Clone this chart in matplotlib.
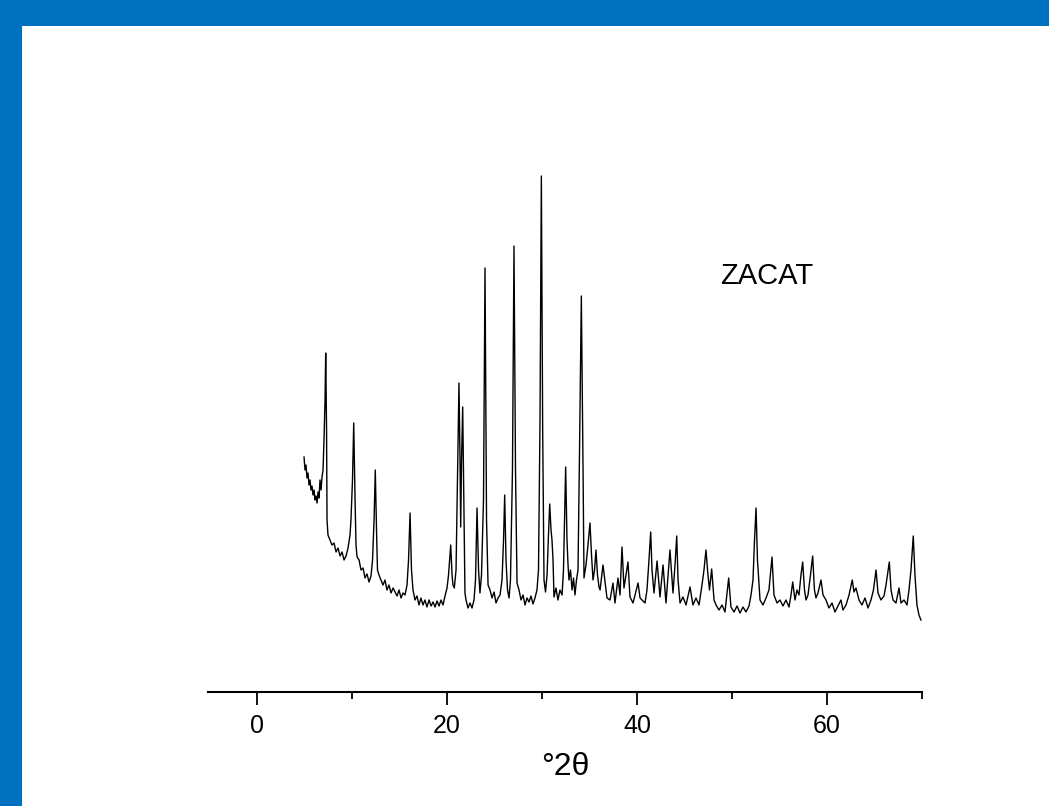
import matplotlib
matplotlib.use("Agg")
import matplotlib.pyplot as plt
from matplotlib.patches import Rectangle
from matplotlib.ticker import MultipleLocator

# XRD pattern of the ZACAT sample (2theta in degrees, intensity a.u.)
two_theta = [
    4.95, 5.05, 5.16, 5.26, 5.37, 5.47, 5.58, 5.68, 5.79, 5.89, 6.00, 6.11, 6.21, 6.32, 6.42, 6.53,
    6.63, 6.74, 6.84, 6.95, 7.05, 7.16, 7.23, 7.32, 7.37, 7.47, 7.68, 7.89, 8.11, 8.32, 8.53, 8.74,
    8.95, 9.16, 9.37, 9.58, 9.79, 9.89, 10.05, 10.18, 10.32, 10.42, 10.53, 10.74, 10.95, 11.16, 11.37,
    11.58, 11.79, 12.00, 12.16, 12.32, 12.45, 12.58, 12.68, 12.84, 13.05, 13.26, 13.47, 13.68, 13.89,
    14.11, 14.32, 14.53, 14.74, 14.95, 15.16, 15.37, 15.58, 15.79, 15.95, 16.11, 16.26, 16.42, 16.63,
    16.84, 17.05, 17.26, 17.47, 17.68, 17.89, 18.11, 18.32, 18.53, 18.74, 18.95, 19.16, 19.37, 19.58,
    19.79, 20.00, 20.16, 20.39, 20.53, 20.63, 20.77, 20.95, 21.11, 21.26, 21.37, 21.44, 21.53, 21.65,
    21.79, 21.89, 22.00, 22.21, 22.42, 22.63, 22.84, 23.00, 23.16, 23.32, 23.47, 23.63, 23.84, 24.00,
    24.16, 24.32, 24.53, 24.74, 24.95, 25.16, 25.37, 25.58, 25.79, 25.95, 26.07, 26.21, 26.37, 26.53,
    26.68, 26.89, 27.05, 27.21, 27.37, 27.58, 27.79, 28.00, 28.21, 28.42, 28.63, 28.84, 29.05, 29.26,
    29.47, 29.63, 29.79, 29.93, 30.07, 30.21, 30.37, 30.53, 30.68, 30.81, 30.95, 31.05, 31.16, 31.26,
    31.47, 31.68, 31.89, 32.11, 32.26, 32.37, 32.49, 32.63, 32.74, 32.84, 33.00, 33.16, 33.32, 33.47,
    33.63, 33.79, 33.95, 34.14, 34.32, 34.42, 34.63, 34.84, 35.05, 35.21, 35.37, 35.53, 35.68, 35.84,
    36.00, 36.11, 36.42, 36.84, 37.16, 37.47, 37.68, 38.00, 38.21, 38.42, 38.63, 38.84, 39.05, 39.26,
    39.58, 39.79, 40.11, 40.32, 40.53, 40.84, 41.05, 41.26, 41.44, 41.58, 41.79, 42.11, 42.42, 42.74,
    43.05, 43.47, 43.79, 44.00, 44.18, 44.32, 44.53, 44.84, 45.16, 45.58, 45.89, 46.21, 46.53, 46.84,
    47.05, 47.26, 47.47, 47.63, 47.86, 48.11, 48.32, 48.63, 48.95, 49.26, 49.65, 49.89, 50.21, 50.53,
    50.84, 51.16, 51.47, 51.79, 52.00, 52.21, 52.37, 52.53, 52.68, 52.95, 53.26, 53.58, 53.89, 54.21,
    54.42, 54.74, 55.05, 55.37, 55.68, 56.00, 56.21, 56.39, 56.63, 56.84, 57.05, 57.26, 57.44, 57.63,
    57.79, 58.00, 58.26, 58.49, 58.68, 58.84, 59.05, 59.37, 59.58, 59.89, 60.21, 60.53, 60.84, 61.16,
    61.47, 61.68, 62.00, 62.32, 62.66, 62.84, 63.05, 63.37, 63.68, 64.00, 64.32, 64.63, 64.89, 65.16,
    65.37, 65.68, 66.00, 66.21, 66.56, 66.74, 66.95, 67.26, 67.58, 67.79, 68.11, 68.42, 68.63, 68.84,
    69.08, 69.26, 69.47, 69.68, 69.89,
]
intensity = [
    235, 222, 227, 214, 219, 207, 212, 202, 206, 197, 202, 192, 196, 189, 200, 194,
    212, 202, 215, 222, 252, 292, 339, 262, 172, 157, 152, 147, 149, 140, 144, 136,
    140, 132, 136, 144, 157, 172, 212, 269, 192, 147, 135, 132, 122, 124, 114,
    118, 110, 116, 132, 172, 222, 162, 122, 117, 112, 107, 112, 102, 107,
    99, 104, 100, 96, 102, 94, 99, 97, 107, 132, 179, 122, 102, 92,
    96, 87, 94, 87, 92, 85, 92, 86, 90, 85, 91, 86, 92, 87,
    96, 104, 117, 147, 117, 107, 104, 122, 222, 309, 232, 165, 232, 285,
    172, 99, 92, 84, 89, 84, 92, 112, 184, 122, 99, 117, 192, 424,
    172, 107, 102, 94, 100, 89, 94, 97, 112, 152, 197, 132, 102, 94,
    112, 222, 446, 222, 109, 102, 92, 97, 87, 94, 90, 96, 88, 94,
    102, 122, 272, 516, 262, 112, 100, 117, 157, 188, 162, 152, 132, 95,
    104, 92, 102, 97, 122, 172, 225, 152, 127, 112, 122, 102, 114, 97,
    112, 122, 242, 396, 222, 114, 127, 147, 169, 137, 112, 122, 142, 117,
    105, 102, 127, 94, 92, 109, 89, 114, 97, 145, 104, 117, 130, 95,
    89, 97, 109, 94, 92, 89, 102, 132, 160, 122, 99, 131, 95, 127,
    89, 142, 99, 127, 156, 112, 89, 95, 87, 105, 87, 94, 87, 107,
    122, 142, 117, 102, 123, 92, 87, 82, 87, 80, 114, 85, 80, 86,
    79, 85, 80, 86, 97, 112, 152, 184, 132, 92, 87, 94, 102, 135,
    97, 89, 92, 86, 92, 85, 97, 110, 92, 102, 97, 117, 130, 102,
    92, 97, 117, 136, 102, 94, 99, 112, 97, 92, 84, 89, 80, 86,
    92, 82, 87, 97, 112, 100, 104, 92, 87, 94, 84, 92, 102, 122,
    99, 92, 96, 107, 130, 102, 92, 89, 104, 89, 92, 87, 102, 122,
    156, 117, 87, 77, 72,
]

major_ticks = [0, 20, 40, 60]
tick_labels = ["0", "20", "40", "60"]
sample_name = "ZACAT"
x_title = "\u00b02\u03b8"

BLUE = "#0070C0"

plt.rcParams["font.family"] = ["Liberation Sans", "DejaVu Sans"]

fig = plt.figure(figsize=(10.49, 8.06), dpi=100)
fig.patch.set_facecolor("white")

# blue frame on the left and top edges of the slide
fig.patches.append(Rectangle((0, 0), 22 / 1049, 1, transform=fig.transFigure,
                             facecolor=BLUE, edgecolor="none", zorder=0))
fig.patches.append(Rectangle((0, 1 - 26 / 806), 1, 26 / 806, transform=fig.transFigure,
                             facecolor=BLUE, edgecolor="none", zorder=0))

ax = fig.add_axes([208 / 1049, 114 / 806, 714 / 1049, 542 / 806])
ax.set_facecolor("none")
ax.plot(two_theta, intensity, color="black", linewidth=1.0)

ax.set_xlim(-5.16, 70)
ax.set_ylim(0, 542)

for side in ["left", "top", "right"]:
    ax.spines[side].set_visible(False)
ax.spines["bottom"].set_linewidth(1.5)
ax.set_yticks([])

ax.set_xticks(major_ticks)
ax.set_xticklabels(tick_labels)
ax.xaxis.set_minor_locator(MultipleLocator(10))
ax.tick_params(axis="x", which="major", length=9, width=1.3, labelsize=18, pad=7)
ax.tick_params(axis="x", which="minor", length=5, width=1.3)

ax.set_xlabel(x_title, fontsize=23, labelpad=10)

ax.text(53.7, 416, sample_name, fontsize=21, ha="center", va="center")

fig.savefig("out.png", dpi=100)
